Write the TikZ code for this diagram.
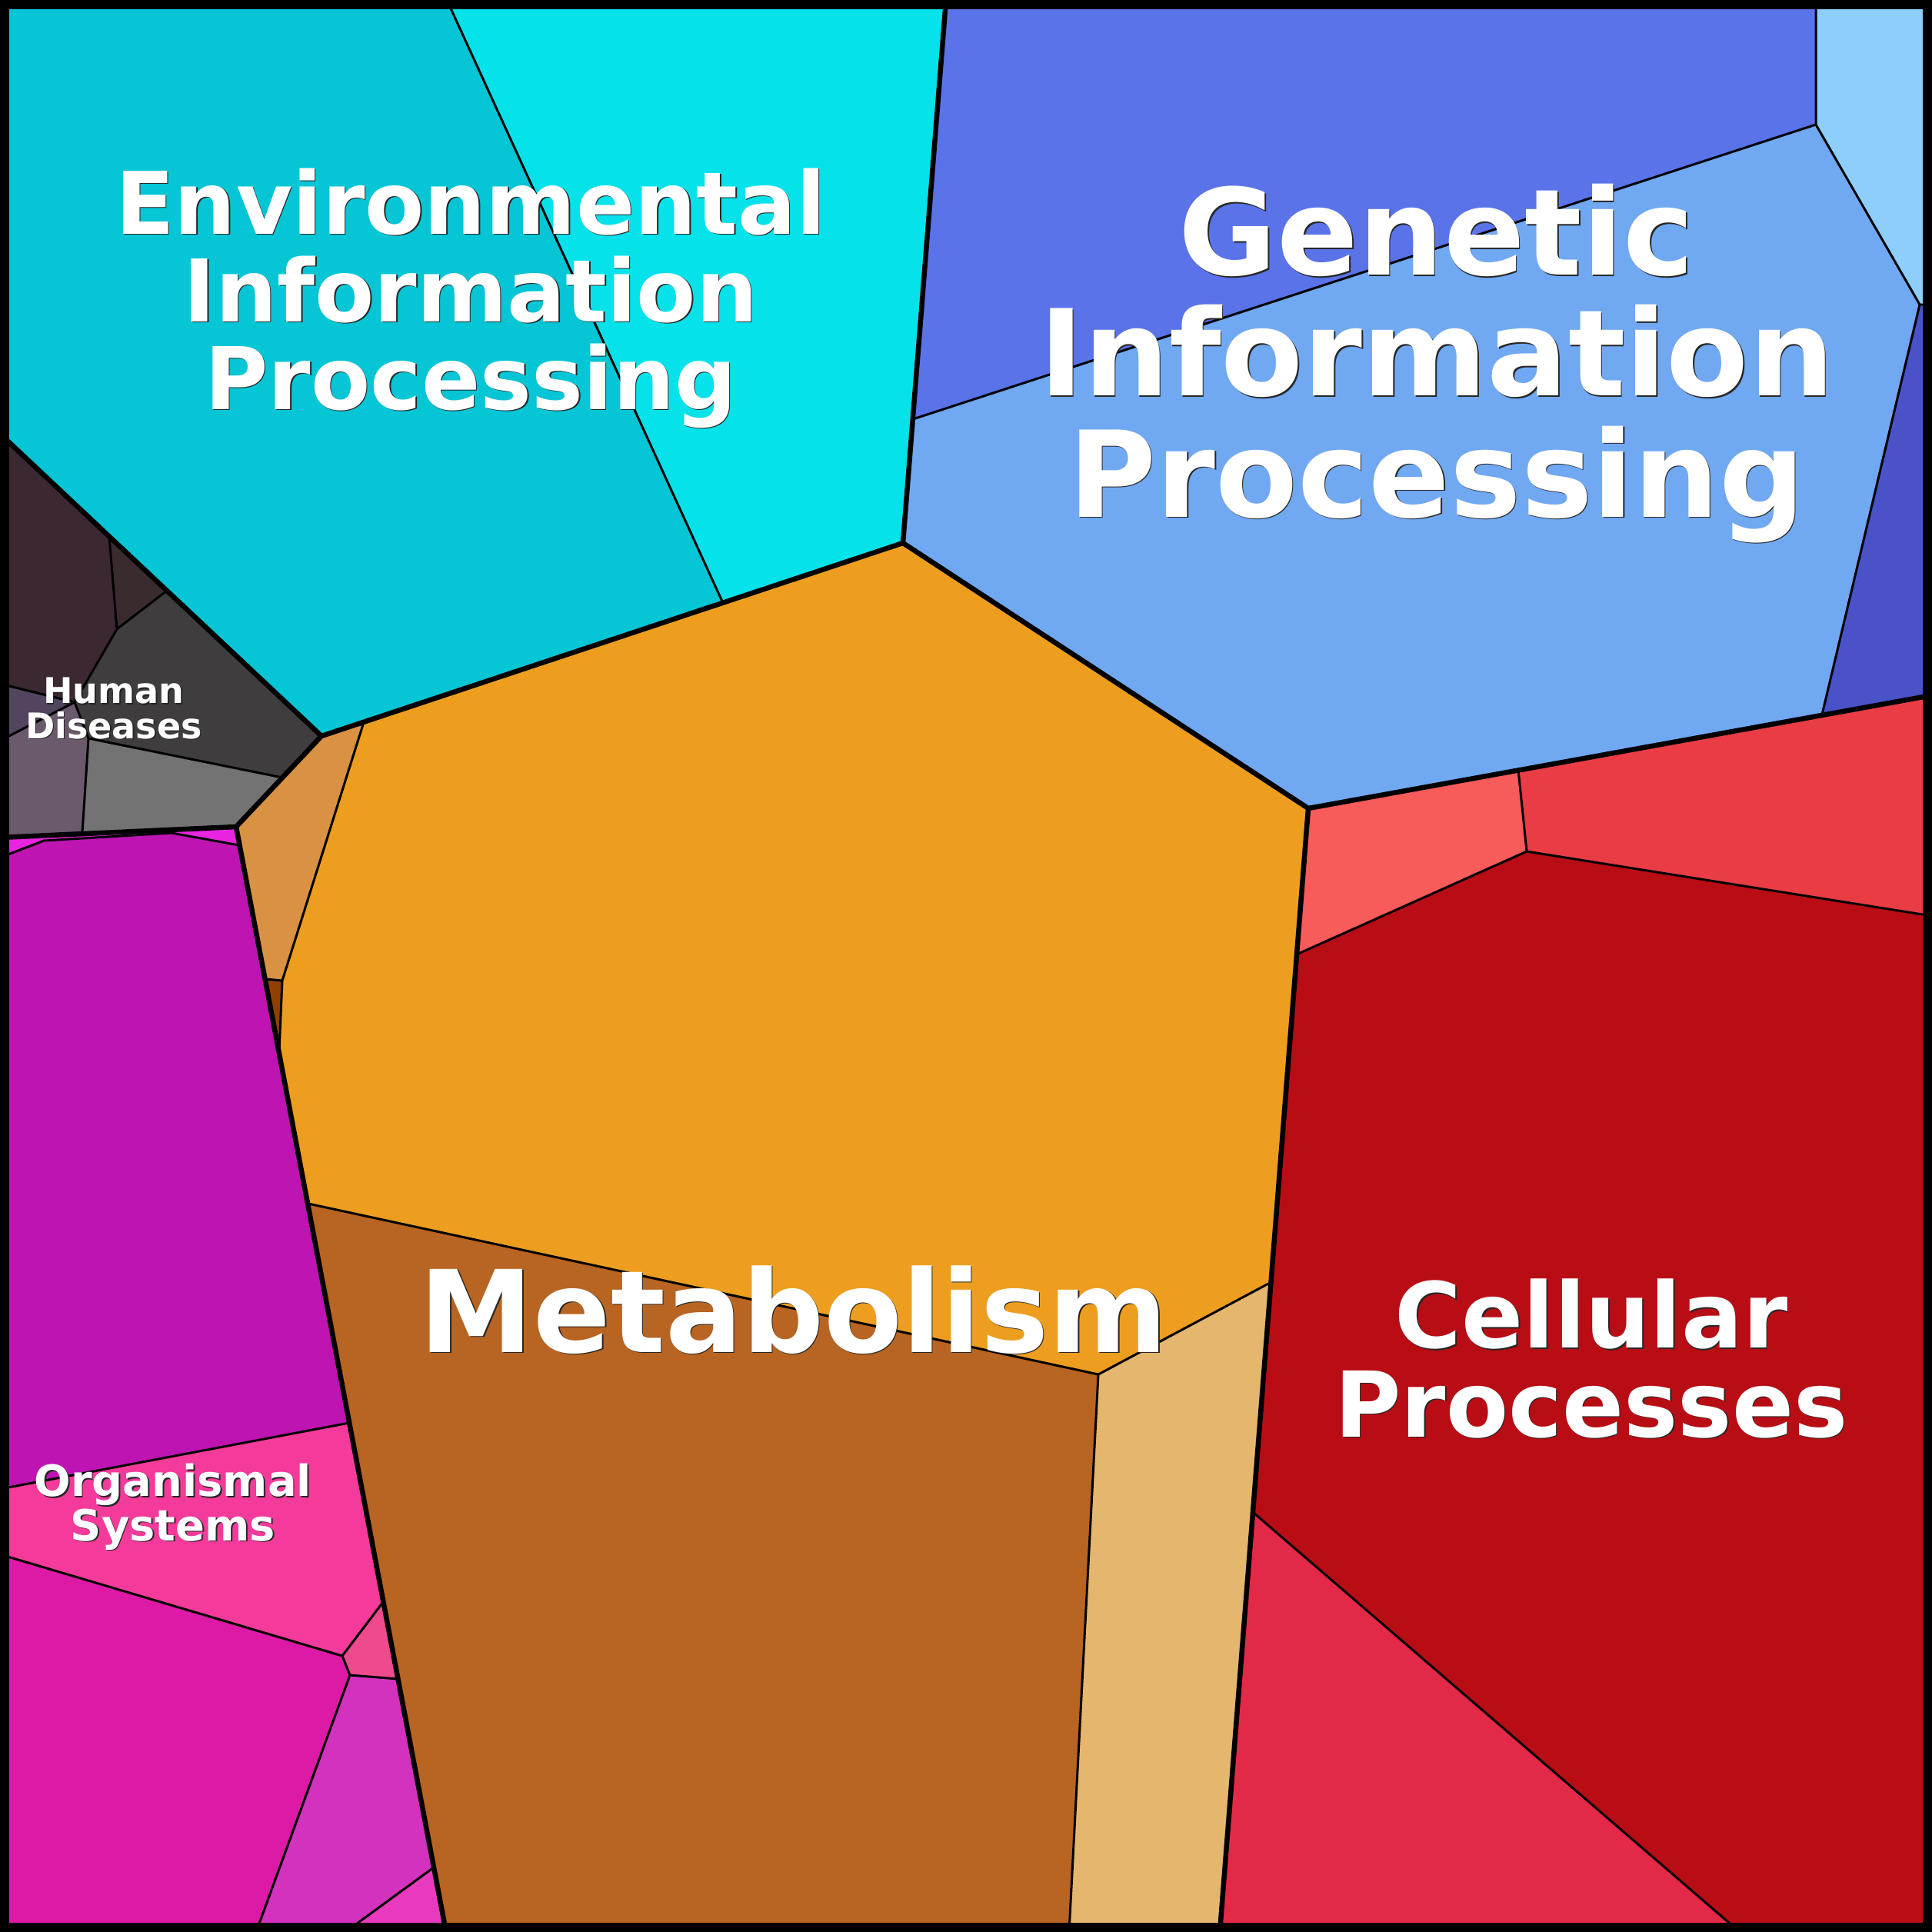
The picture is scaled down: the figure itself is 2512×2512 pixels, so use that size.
\documentclass[tikz,border=0pt]{standalone}
\usepackage{fontspec}
\newfontfamily\lblfont{DejaVu Sans}
\definecolor{cyanA}{HTML}{06C5D5}
\definecolor{cyanB}{HTML}{05E2EA}
\definecolor{blueTop}{HTML}{5A73E8}
\definecolor{blueMain}{HTML}{70A8F2}
\definecolor{blueLight}{HTML}{8ECEFC}
\definecolor{blueDark}{HTML}{4A52C8}
\definecolor{redPink}{HTML}{F75B5A}
\definecolor{redTR}{HTML}{E93C45}
\definecolor{redMain}{HTML}{B80D15}
\definecolor{redLow}{HTML}{E22A48}
\definecolor{metMain}{HTML}{ED9E1F}
\definecolor{metTan}{HTML}{D99143}
\definecolor{metDark}{HTML}{8F4000}
\definecolor{metBrown}{HTML}{B86422}
\definecolor{metLight}{HTML}{E5B66E}
\definecolor{hdA}{HTML}{3C2832}
\definecolor{hdB}{HTML}{3A2C2E}
\definecolor{hdC}{HTML}{403D3F}
\definecolor{hdD}{HTML}{524560}
\definecolor{hdE}{HTML}{6A5A6C}
\definecolor{hdF}{HTML}{737373}
\definecolor{osA}{HTML}{E824E0}
\definecolor{osB}{HTML}{BE15B2}
\definecolor{osC}{HTML}{F43A9A}
\definecolor{osD}{HTML}{DD1AA5}
\definecolor{osE}{HTML}{EE4A8D}
\definecolor{osF}{HTML}{D332BE}
\definecolor{osG}{HTML}{E83ABF}
\begin{document}
\begin{tikzpicture}[x=0.01cm,y=-0.01cm,
  thinline/.style={draw=black,line width=0.85pt,line join=round},
  thickline/.style={draw=black,line width=1.85pt,line join=round,line cap=round},
  framebox/.style={draw=black,line width=3.41pt,line join=miter},
  lbl/.style={text=white,inner sep=0pt,align=center,anchor=base},
  lblshadow/.style={text=black!85,inner sep=0pt,align=center,anchor=base},
  fEIP/.style={font=\lblfont\bfseries\fontsize{32.0}{32.4}\selectfont},
  fGIP/.style={font=\lblfont\bfseries\fontsize{44.3}{44.7}\selectfont},
  fMET/.style={font=\lblfont\bfseries\fontsize{42.2}{42.2}\selectfont},
  fCP/.style={font=\lblfont\bfseries\fontsize{33.6}{32.8}\selectfont},
  fHD/.style={font=\lblfont\bfseries\fontsize{13.1}{12.8}\selectfont},
  fOS/.style={font=\lblfont\bfseries\fontsize{15.9}{15.2}\selectfont}]
\useasboundingbox (0,0) rectangle (2512,2512);
% ---------- coordinates ----------
\coordinate (TL) at (0,0);
\coordinate (TR) at (2512,0);
\coordinate (BL) at (0,2512);
\coordinate (BR) at (2512,2512);
% EIP
\coordinate (e1) at (1230,0);
\coordinate (gC) at (1174,706);
\coordinate (e2) at (581,0);
\coordinate (e3) at (940,784);
\coordinate (J1) at (418,957);
\coordinate (e4) at (0,564);
% GIP
\coordinate (g1) at (1187,545);
\coordinate (g2) at (2361,162);
\coordinate (g3) at (2361,0);
\coordinate (g4) at (2496,396);
\coordinate (g5) at (2512,396);
\coordinate (g6) at (2369,929);
\coordinate (gR) at (2512,904);
\coordinate (mC) at (1701,1051);
% CP
\coordinate (c1) at (1974,1001);
\coordinate (c2) at (1985,1107);
\coordinate (c3) at (2512,1191);
\coordinate (c4) at (1688,1240);
\coordinate (c5) at (1630,1967);
\coordinate (c6) at (2262,2512);
\coordinate (cB) at (1586,2512);
% Metabolism
\coordinate (m1) at (473,939);
\coordinate (m2) at (367,1275);
\coordinate (m3) at (346,1273);
\coordinate (m4) at (363,1367);
\coordinate (J2) at (307,1075);
\coordinate (m5) at (401,1565);
\coordinate (m6) at (1428,1787);
\coordinate (m7) at (1651,1668);
\coordinate (m8) at (1390,2512);
\coordinate (mB) at (580,2512);
% HD
\coordinate (h1) at (142,698);
\coordinate (h2) at (217,768);
\coordinate (h3) at (152,818);
\coordinate (h4) at (97,913);
\coordinate (h5) at (0,889);
\coordinate (h6) at (0,963);
\coordinate (h7) at (115,960);
\coordinate (h8) at (367,1011);
\coordinate (h9) at (107,1083);
\coordinate (hL) at (0,1089);
% OS
\coordinate (o1) at (0,1115);
\coordinate (o2) at (57,1093);
\coordinate (o3) at (223,1083);
\coordinate (o4) at (311,1099);
\coordinate (o5) at (0,1936);
\coordinate (o6) at (454,1850);
\coordinate (o7) at (0,2021);
\coordinate (o8) at (445,2153);
\coordinate (o9) at (498,2083);
\coordinate (o10) at (455,2178);
\coordinate (o11) at (518,2183);
\coordinate (o12) at (333,2512);
\coordinate (o13) at (564,2428);
\coordinate (o14) at (449,2512);
% ---------- fills ----------
% Environmental Information Processing
\fill[cyanA] (TL) -- (e2) -- (e3) -- (J1) -- (e4) -- cycle;
\fill[cyanB] (e2) -- (e1) -- (gC) -- (e3) -- cycle;
% Genetic Information Processing
\fill[blueTop] (e1) -- (g3) -- (g2) -- (g1) -- cycle;
\fill[blueMain] (g1) -- (g2) -- (g4) -- (g6) -- (mC) -- (gC) -- cycle;
\fill[blueLight] (g3) -- (TR) -- (g5) -- (g4) -- (g2) -- cycle;
\fill[blueDark] (g4) -- (g5) -- (gR) -- (g6) -- cycle;
% Cellular Processes
\fill[redPink] (mC) -- (c1) -- (c2) -- (c4) -- cycle;
\fill[redTR] (c1) -- (gR) -- (c3) -- (c2) -- cycle;
\fill[redMain] (c4) -- (c2) -- (c3) -- (BR) -- (c6) -- (c5) -- cycle;
\fill[redLow] (c5) -- (c6) -- (cB) -- cycle;
% Metabolism
\fill[metMain] (m1) -- (gC) -- (mC) -- (m7) -- (m6) -- (m5) -- (m4) -- (m2) -- cycle;
\fill[metTan] (J1) -- (m1) -- (m2) -- (m3) -- (J2) -- cycle;
\fill[metDark] (m3) -- (m2) -- (m4) -- cycle;
\fill[metBrown] (m5) -- (m6) -- (m8) -- (mB) -- cycle;
\fill[metLight] (m6) -- (m7) -- (cB) -- (m8) -- cycle;
% Human Diseases
\fill[hdA] (e4) -- (h1) -- (h3) -- (h4) -- (h5) -- cycle;
\fill[hdB] (h1) -- (h2) -- (h3) -- cycle;
\fill[hdC] (h3) -- (h2) -- (J1) -- (h8) -- (h7) -- (h4) -- cycle;
\fill[hdD] (h5) -- (h4) -- (h6) -- cycle;
\fill[hdE] (h6) -- (h4) -- (h7) -- (h9) -- (hL) -- cycle;
\fill[hdF] (h7) -- (h8) -- (J2) -- (h9) -- cycle;
% Organismal Systems
\fill[osA] (hL) -- (J2) -- (o4) -- (o3) -- (o2) -- (o1) -- cycle;
\fill[osB] (o1) -- (o2) -- (o3) -- (o4) -- (o6) -- (o5) -- cycle;
\fill[osC] (o5) -- (o6) -- (o9) -- (o8) -- (o7) -- cycle;
\fill[osD] (o7) -- (o8) -- (o10) -- (o12) -- (BL) -- cycle;
\fill[osE] (o8) -- (o9) -- (o11) -- (o10) -- cycle;
\fill[osF] (o10) -- (o11) -- (o13) -- (o14) -- (o12) -- cycle;
\fill[osG] (o14) -- (o13) -- (mB) -- cycle;
% ---------- thin boundaries ----------
\draw[thinline] (e2) -- (e3);
\draw[thinline] (g1) -- (g2) -- (g3);
\draw[thinline] (g2) -- (g4) -- (g5);
\draw[thinline] (g4) -- (g6);
\draw[thinline] (c1) -- (c2) -- (c3);
\draw[thinline] (c2) -- (c4);
\draw[thinline] (c5) -- (c6);
\draw[thinline] (m1) -- (m2) -- (m4);
\draw[thinline] (m3) -- (m2);
\draw[thinline] (m5) -- (m6) -- (m7);
\draw[thinline] (m6) -- (m8);
\draw[thinline] (h1) -- (h3) -- (h2);
\draw[thinline] (h3) -- (h4) -- (h5);
\draw[thinline] (h6) -- (h4) -- (h7) -- (h9);
\draw[thinline] (h7) -- (h8);
\draw[thinline] (o1) -- (o2) -- (o3) -- (o4);
\draw[thinline] (o5) -- (o6);
\draw[thinline] (o7) -- (o8) -- (o9);
\draw[thinline] (o8) -- (o10) -- (o11);
\draw[thinline] (o10) -- (o12);
\draw[thinline] (o14) -- (o13);
% ---------- thick boundaries ----------
\draw[thickline] (e1) -- (gC);
\draw[thickline] (e4) -- (J1) -- (gC) -- (mC) -- (gR);
\draw[thickline] (mC) -- (cB);
\draw[thickline] (J1) -- (J2) -- (hL);
\draw[thickline] (J2) -- (mB);
% ---------- frame ----------
\draw[framebox] (6,6) rectangle (2506,2506);
% ---------- labels (anchor = baseline of last line) ----------
\node[lblshadow,fEIP] (eipS) at (613.5,533.5) {Environmental\\Information\\Processing};
\node[lbl,fEIP] (eip) at (612,532) {Environmental\\Information\\Processing};
\node[lblshadow,fGIP] (gipS) at (1869.5,673.5) {Genetic\\Information\\Processing};
\node[lbl,fGIP] (gip) at (1868,672) {Genetic\\Information\\Processing};
\node[lblshadow,fMET] (metS) at (1033.5,1759.5) {Metabolism};
\node[lbl,fMET] (met) at (1032,1758) {Metabolism};
\node[lblshadow,fCP] (cpS) at (2070.5,1869.5) {Cellular\\Processes};
\node[lbl,fCP] (cp) at (2069,1868) {Cellular\\Processes};
\node[lblshadow,fHD] (hdS) at (149.5,961.5) {Human\\Diseases};
\node[lbl,fHD] (hd) at (148,960) {Human\\Diseases};
\node[lblshadow,fOS] (osS) at (226.5,2004.5) {Organismal\\Systems};
\node[lbl,fOS] (os) at (225,2003) {Organismal\\Systems};
\end{tikzpicture}
\end{document}
